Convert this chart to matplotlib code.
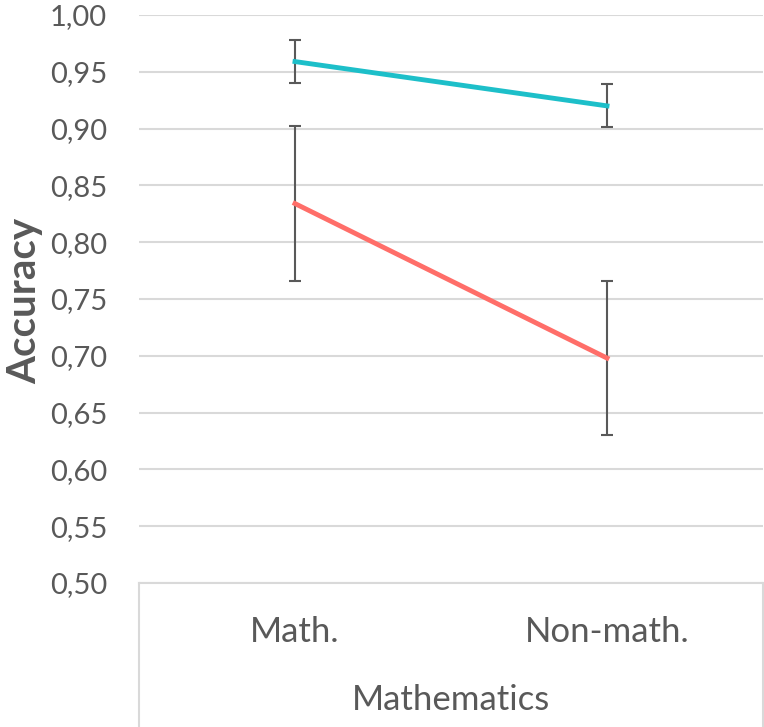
import matplotlib.pyplot as plt
from matplotlib.lines import Line2D
from matplotlib.ticker import FuncFormatter

plt.rcParams['font.family'] = ['Lato', 'DejaVu Sans']

categories = ['Math.', 'Non-math.']
group_label = 'Mathematics'

teal_mean = [0.959, 0.920]
teal_err = [0.019, 0.019]
red_mean = [0.834, 0.698]
red_err = [0.068, 0.068]

W, H = 764, 727
fig = plt.figure(figsize=(W / 100, H / 100), dpi=100)
ax = fig.add_axes([139 / W, 144 / H, 624 / W, 568 / H])

x = list(range(len(categories)))
grey = '#595959'

ax.errorbar(x, teal_mean, yerr=teal_err, color='#1dbfc9', lw=3.5, ecolor=grey,
            elinewidth=1.5, capsize=4.5, capthick=1.5, zorder=3)
ax.errorbar(x, red_mean, yerr=red_err, color='#ff6e69', lw=3.5, ecolor=grey,
            elinewidth=1.5, capsize=4.5, capthick=1.5, zorder=3)

ax.set_xlim(-0.5, 1.5)
ax.set_ylim(0.5, 1.0)
ax.set_yticks([0.5 + 0.05 * i for i in range(11)])
ax.yaxis.set_major_formatter(FuncFormatter(lambda v, p: f'{v:.2f}'.replace('.', ',')))
ax.tick_params(axis='y', length=0, pad=23, labelsize=21, labelcolor=grey)
ax.set_xticks([])
ax.grid(axis='y', color='#d9d9d9', lw=1.5, zorder=0)
for s in ax.spines.values():
    s.set_visible(False)

fig.text(25 / W, 1 - 301 / H, 'Accuracy', rotation=90, ha='center', va='center',
         fontsize=29, fontweight='bold', color=grey)

# category box below the plot area
box = '#d9d9d9'
fig.add_artist(Line2D([139 / W, 763 / W], [144 / H, 144 / H], color=box, lw=1.5))
fig.add_artist(Line2D([139 / W, 139 / W], [0, 144 / H], color=box, lw=1.5))
fig.add_artist(Line2D([763 / W, 763 / W], [0, 144 / H], color=box, lw=1.5))

for xi, lab in zip(x, categories):
    ax.text(xi, -0.087, lab, transform=ax.get_xaxis_transform(), ha='center', va='center',
            fontsize=25, color=grey)
ax.text(0.5, -0.206, group_label, transform=ax.transAxes, ha='center', va='center',
        fontsize=25, color=grey)

fig.savefig('out.png', dpi=100)
